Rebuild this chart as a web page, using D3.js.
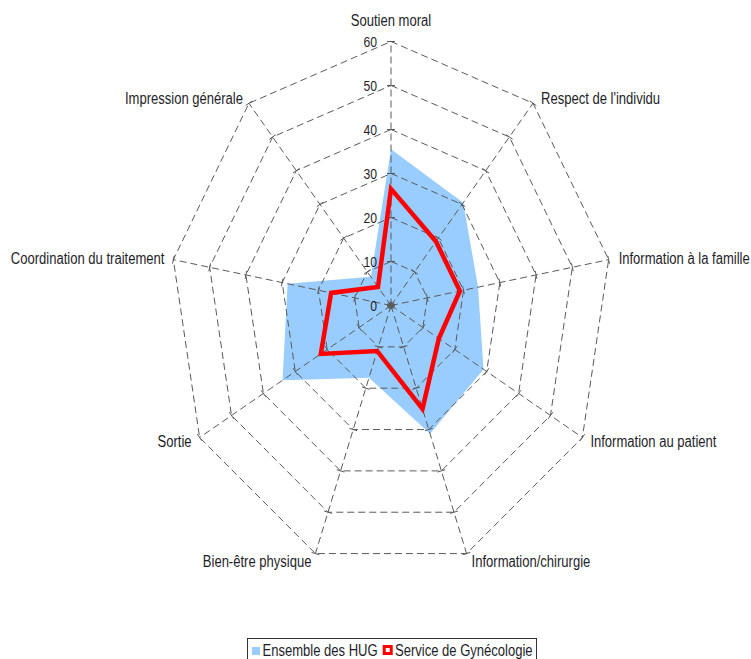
<!DOCTYPE html>
<html>
<head>
<meta charset="utf-8">
<script src="https://cdn.jsdelivr.net/npm/d3@7"></script>
<style>
  html, body { margin: 0; padding: 0; background: #fff; }
  svg { display: block; }
  text { font-family: "Liberation Sans", Arial, sans-serif; fill: #1e1e28; }
</style>
</head>
<body>
<svg id="chart" width="751" height="659"></svg>
<script>
const categories = ["Soutien moral", "Respect de l'individu", "Information à la famille",
  "Information au patient", "Information/chirurgie", "Bien-être physique", "Sortie",
  "Coordination du traitement", "Impression générale"];
const hugValues = [35.5, 30.5, 24, 29, 31, 17.5, 34, 28.5, 8.5];
const gynValues = [26.5, 19, 19, 15, 25, 11, 22, 16.5, 5.5];
const tickValues = [0, 10, 20, 30, 40, 50, 60];
const seriesNames = ["Ensemble des HUG", "Service de Gynécologie"];

const svg = d3.select("#chart");
const cx = 391, cy = 305.5;
const sx = 0.815; // horizontal text compression
const xr = d3.scaleLinear().domain([0, 60]).range([0, 221]);
const yr = d3.scaleLinear().domain([0, 60]).range([0, 264]);
const ang = d3.scaleLinear().domain([0, categories.length]).range([0, 2 * Math.PI]);

function pt(i, v) {
  const a = ang(i);
  return [cx + xr(v) * Math.sin(a), cy - yr(v) * Math.cos(a)];
}

const gridColor = "#5a5a5a";
const dash = "7,4";

// series polygons
const line = d3.line().curve(d3.curveLinearClosed);
svg.append("path")
  .attr("d", line(hugValues.map((v, i) => pt(i, v))))
  .attr("fill", "#99ccff").attr("stroke", "none");

// grid polygons
const g = svg.append("g");
tickValues.filter(t => t > 0).forEach(t => {
  g.append("path")
    .attr("d", line(categories.map((c, i) => pt(i, t))))
    .attr("fill", "none").attr("stroke", gridColor)
    .attr("stroke-width", 1).attr("stroke-dasharray", dash);
});
// spokes
categories.forEach((c, i) => {
  const p = pt(i, 60);
  g.append("line").attr("x1", cx).attr("y1", cy).attr("x2", p[0]).attr("y2", p[1])
    .attr("stroke", gridColor).attr("stroke-width", 1).attr("stroke-dasharray", dash);
  // ticks perpendicular to spoke
  tickValues.forEach(t => {
    const q = pt(i, t);
    const dx = p[0] - cx, dy = p[1] - cy, len = Math.hypot(dx, dy);
    const nx = -dy / len * 4, ny = dx / len * 4;
    g.append("line").attr("x1", q[0] - nx).attr("y1", q[1] - ny)
      .attr("x2", q[0] + nx).attr("y2", q[1] + ny)
      .attr("stroke", gridColor).attr("stroke-width", 1);
  });
});

svg.append("path")
  .attr("d", line(gynValues.map((v, i) => pt(i, v))))
  .attr("fill", "none").attr("stroke", "#ff0000")
  .attr("stroke-width", 4.5).attr("stroke-linejoin", "miter");

// tick labels
tickValues.forEach(t => {
  svg.append("text")
    .attr("transform", `translate(${cx - 14},${cy - yr(t) + 5}) scale(${sx},1)`)
    .attr("text-anchor", "end").attr("font-size", 15).text(t);
});

// category labels
const labelOffsets = [
  { dx: 0, dy: -16, anchor: "middle" },
  { dx: 8, dy: 1, anchor: "start" },
  { dx: 10, dy: 4, anchor: "start" },
  { dx: 8, dy: 9, anchor: "start" },
  { dx: 5, dy: 13, anchor: "start" },
  { dx: -4, dy: 13, anchor: "end" },
  { dx: -8, dy: 9, anchor: "end" },
  { dx: -9, dy: 4, anchor: "end" },
  { dx: -6, dy: 1, anchor: "end" }
];
categories.forEach((c, i) => {
  const p = pt(i, 60), o = labelOffsets[i];
  svg.append("text")
    .attr("transform", `translate(${p[0] + o.dx},${p[1] + o.dy}) scale(${sx},1)`)
    .attr("text-anchor", o.anchor).attr("font-size", 16).text(c);
});

// legend
const lg = svg.append("g");
lg.append("rect").attr("x", 247.5).attr("y", 638.5).attr("width", 289).attr("height", 30)
  .attr("fill", "#fff").attr("stroke", "#333").attr("stroke-width", 1);
lg.append("rect").attr("x", 252).attr("y", 647).attr("width", 8).attr("height", 8)
  .attr("fill", "#99ccff");
lg.append("text").attr("transform", `translate(262.5,656) scale(${sx},1)`)
  .attr("font-size", 16).text(seriesNames[0]);
lg.append("rect").attr("x", 384.2).attr("y", 646.5).attr("width", 7).attr("height", 7)
  .attr("fill", "#fff").attr("stroke", "#ff0000").attr("stroke-width", 3);
lg.append("text").attr("transform", `translate(395,656) scale(${sx},1)`)
  .attr("font-size", 16).text(seriesNames[1]);
</script>
</body>
</html>
